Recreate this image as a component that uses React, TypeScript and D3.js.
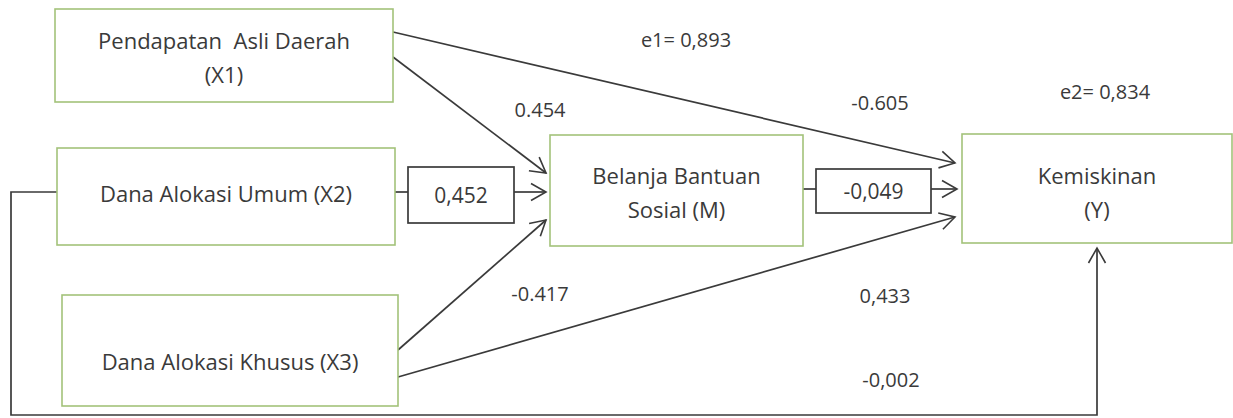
import React from 'react';
import * as d3 from 'd3';

// variable names shown in the boxes
const nodeIds = ['X1', 'X2', 'X3', 'M', 'Y'];
const nodeLabels = [
  ['Pendapatan  Asli Daerah', '(X1)'],
  ['Dana Alokasi Umum (X2)'],
  ['Dana Alokasi Khusus (X3)'],
  ['Belanja Bantuan', 'Sosial (M)'],
  ['Kemiskinan', '(Y)'],
];

// path coefficients
const pathFrom = ['X1', 'X1', 'X2', 'X3', 'X3', 'M', 'X2'];
const pathTo = ['M', 'Y', 'M', 'M', 'Y', 'Y', 'Y'];
const pathCoef = ['0.454', '-0.605', '0,452', '-0.417', '0,433', '-0,049', '-0,002'];

// error terms
const errorLabels = ['e1= 0,893', 'e2= 0,834'];

const W = 1233, H = 418;

// layout (pixel geometry of the diagram)
const boxes: Record<string, { x: number; y: number; w: number; h: number; ty: number }> = {
  X1: { x: 55, y: 9, w: 338, h: 93, ty: 58.5 },
  X2: { x: 57, y: 148, w: 338, h: 97, ty: 194 },
  X3: { x: 62, y: 295, w: 336, h: 111, ty: 362 },
  M: { x: 550, y: 135, w: 253, h: 111, ty: 193.5 },
  Y: { x: 962, y: 134, w: 270, h: 109, ty: 193 },
};

const boxedCoef: Record<string, { x: number; y: number; w: number; h: number }> = {
  '0,452': { x: 408, y: 167, w: 106, h: 56 },
  '-0,049': { x: 816, y: 169, w: 115, h: 44 },
};

const coefPos: Record<string, [number, number]> = {
  '0.454': [540, 110],
  '-0.605': [880, 103],
  '-0.417': [540, 294],
  '0,433': [885, 296],
  '-0,002': [891, 380],
};
const errorPos: [number, number][] = [[686, 40], [1105, 92]];

// endpoints of the straight paths: [start, end]
const pathPts: Record<string, [number, number][]> = {
  '0.454': [[393, 57], [546, 173]],
  '-0.605': [[393, 32], [955, 163]],
  '-0.417': [[398, 350], [546, 220]],
  '0,433': [[398, 377], [955, 217]],
};

const line = d3.line<[number, number]>().x(d => d[0]).y(d => d[1]);

const green = '#a3c27a';
const ink = '#3a3a3a';
const font = '"Open Sans", sans-serif';

const App: React.FC = () => {
  const x2 = boxes.X2, m = boxes.M, y = boxes.Y;
  const b1 = boxedCoef['0,452'], b2 = boxedCoef['-0,049'];
  const x2mid = 192;
  const mmid = 189;
  const yc = y.x + y.w / 2;

  return (
    <svg width={W} height={H} style={{ position: 'absolute', left: 0, top: 0, background: '#fff' }}
      fontFamily={font}>
      <defs>
        <marker id="arr" viewBox="-18 -12 20 24" refX={0} refY={0} markerWidth={20} markerHeight={24}
          markerUnits="userSpaceOnUse" orient="auto">
          <path d="M-15,-8.5 L0,0 L-15,8.5" fill="none" stroke={ink} strokeWidth={1.6} />
        </marker>
      </defs>

      {/* straight paths */}
      {Object.entries(pathPts).map(([k, pts]) => (
        <path key={k} d={line(pts) ?? ''} fill="none" stroke={ink} strokeWidth={1.7} markerEnd="url(#arr)" />
      ))}

      {/* X2 -> M through the boxed coefficient */}
      <path d={line([[x2.x + x2.w, x2mid], [b1.x, x2mid]]) ?? ''} stroke={ink} strokeWidth={1.7} />
      <path d={line([[b1.x + b1.w, x2mid], [546, x2mid]]) ?? ''} stroke={ink} strokeWidth={1.7} markerEnd="url(#arr)" />

      {/* M -> Y through the boxed coefficient */}
      <path d={line([[m.x + m.w, mmid], [b2.x, mmid]]) ?? ''} stroke={ink} strokeWidth={1.7} />
      <path d={line([[b2.x + b2.w, mmid], [957, mmid]]) ?? ''} stroke={ink} strokeWidth={1.7} markerEnd="url(#arr)" />

      {/* X2 -> Y around the bottom */}
      <path d={line([[x2.x, x2mid], [11, x2mid], [11, 415], [yc, 415], [yc, y.y + y.h + 5]]) ?? ''}
        fill="none" stroke={ink} strokeWidth={1.7} markerEnd="url(#arr)" />

      {/* variable boxes */}
      {nodeIds.map((id, i) => {
        const b = boxes[id];
        const lines = nodeLabels[i];
        const cx = b.x + b.w / 2;
        const lh = 34;
        return (
          <g key={id}>
            <rect x={b.x} y={b.y} width={b.w} height={b.h} fill="#fff" stroke={green} strokeWidth={1.6} />
            {lines.map((t, j) => (
              <text key={j} x={cx} y={b.ty + (j - (lines.length - 1) / 2) * lh} dy="0.35em"
                textAnchor="middle" fontSize={22} fill={ink} style={{ whiteSpace: 'pre' }}>{t}</text>
            ))}
          </g>
        );
      })}

      {/* boxed coefficients */}
      {Object.entries(boxedCoef).map(([k, b]) => (
        <g key={k}>
          <rect x={b.x} y={b.y} width={b.w} height={b.h} fill="#fff" stroke={ink} strokeWidth={1.7} />
          <text x={b.x + b.w / 2} y={b.y + b.h / 2 + 1} dy="0.35em" textAnchor="middle"
            fontSize={21} fill={ink}>{k}</text>
        </g>
      ))}

      {/* free coefficients */}
      {pathCoef.filter(c => coefPos[c]).map(c => (
        <text key={c} x={coefPos[c][0]} y={coefPos[c][1]} dy="0.35em" textAnchor="middle"
          fontSize={20} fill={ink}>{c}</text>
      ))}

      {errorLabels.map((e, i) => (
        <text key={e} x={errorPos[i][0]} y={errorPos[i][1]} dy="0.35em" textAnchor="middle"
          fontSize={20} fill={ink}>{e}</text>
      ))}
    </svg>
  );
};

export default App;
